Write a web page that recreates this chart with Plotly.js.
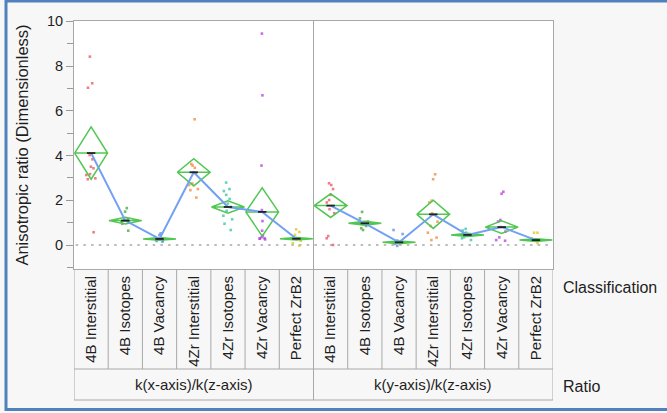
<!DOCTYPE html>
<html>
<head>
<meta charset="utf-8">
<script src="https://cdn.plot.ly/plotly-3.0.1.min.js"></script>
<style>html,body{margin:0;padding:0;background:#f7f7f7;}#chart{width:667px;height:413px;}</style>
</head>
<body>
<div id="chart"></div>
<script>
// ---- data ----
const classes = ["4B Interstitial", "4B Isotopes", "4B Vacancy", "4Zr Interstitial", "4Zr Isotopes", "4Zr Vacancy", "Perfect ZrB2"];
const ratios = ["k(x-axis)/k(z-axis)", "k(y-axis)/k(z-axis)"];
const yTickVals = [0, 2, 4, 6, 8, 10];

// group means and half-height of the means diamonds
const xzMean = [4.11, 1.09, 0.27, 3.25, 1.70, 1.48, 0.28];
const xzHalf = [1.17, 0.15, 0.06, 0.61, 0.28, 1.08, 0.06];
const yzMean = [1.76, 0.97, 0.12, 1.37, 0.45, 0.80, 0.22];
const yzHalf = [0.53, 0.09, 0.06, 0.63, 0.07, 0.28, 0.06];

// individual observations, k(x)/k(z)
const xz4BInterstitial = [8.42, 7.23, 7.03, 4.02, 3.83, 3.50, 3.43, 3.17, 3.13, 2.98, 2.94, 0.57];
const xz4BIsotopes = [1.65, 1.49, 1.15, 1.10, 1.06, 1.02, 0.95, 0.64];
const xz4BVacancy = [0.52, 0.45, 0.30, 0.25, 0.20, 0.18, 0.15, 0.22];
const xz4ZrInterstitial = [5.62, 3.62, 3.55, 3.45, 3.25, 3.20, 2.75, 2.68, 2.50, 2.45, 2.12];
const xz4ZrIsotopes = [2.79, 2.50, 2.41, 2.24, 2.06, 1.85, 1.70, 1.53, 1.31, 1.15, 0.95, 0.67];
const xz4ZrVacancy = [9.45, 6.69, 3.55, 1.56, 1.07, 0.64, 0.42, 0.35, 0.30, 0.28, 0.25, 0.30];
const xzPerfectZrB2 = [0.70, 0.58, 0.45, 0.30, 0.19, 0.08, -0.03];

// individual observations, k(y)/k(z)
const yz4BInterstitial = [2.76, 2.68, 2.50, 2.24, 2.01, 1.90, 1.60, 1.42, 0.40, 0.30, 0.00];
const yz4BIsotopes = [1.48, 1.19, 1.05, 0.95, 0.85, 0.75, 0.67];
const yz4BVacancy = [0.67, 0.49, 0.20, 0.10, 0.05, -0.04];
const yz4ZrInterstitial = [3.16, 2.94, 1.98, 1.90, 1.42, 1.04, 0.85, 0.55, 0.33, 0.22];
const yz4ZrIsotopes = [0.72, 0.65, 0.55, 0.45, 0.35, 0.22, 0.30];
const yz4ZrVacancy = [2.38, 2.29, 1.12, 1.05, 0.80, 0.34, 0.19, 0.22, 0.60];
const yzPerfectZrB2 = [0.55, 0.55, 0.30, 0.20, 0.08];

// ---- styling ----
const classColors = ["#e8545f", "#3aa83a", "#5a8ae8", "#f0883a", "#33c2a6", "#b43ce0", "#e2c41a"];
const FONT = "Arial, 'Liberation Sans', sans-serif";
const TXT = "#1e1e1e";
const GRID = "#a8a8a8";

const xzPoints = [xz4BInterstitial, xz4BIsotopes, xz4BVacancy, xz4ZrInterstitial, xz4ZrIsotopes, xz4ZrVacancy, xzPerfectZrB2];
const yzPoints = [yz4BInterstitial, yz4BIsotopes, yz4BVacancy, yz4ZrInterstitial, yz4ZrIsotopes, yz4ZrVacancy, yzPerfectZrB2];
const nC = classes.length;

const traces = [];
// points (jitter done by plotly box trace)
classes.forEach((c, i) => {
  const xs = [], ys = [];
  xzPoints[i].forEach(v => { xs.push(i); ys.push(v); });
  yzPoints[i].forEach(v => { xs.push(i + nC); ys.push(v); });
  traces.push({
    type: "box", name: c, x: xs, y: ys,
    boxpoints: "all", jitter: 0.55, pointpos: 0, width: 0.6,
    fillcolor: "rgba(0,0,0,0)", line: {width: 0, color: "rgba(0,0,0,0)"},
    whiskerwidth: 0,
    marker: {color: classColors[i], size: 2.6, symbol: "square", opacity: 0.75},
    showlegend: false, hoverinfo: "y"
  });
});

// means diamonds
const allMean = xzMean.concat(yzMean);
const allHalf = xzHalf.concat(yzHalf);
const W = 0.48;
const dx = [], dy = [];
allMean.forEach((m, k) => {
  const h = allHalf[k];
  dx.push(k - W, k, k + W, k, k - W, k + W, null);
  dy.push(m, m + h, m, m - h, m, m, null);
});
traces.push({type: "scatter", mode: "lines", x: dx, y: dy,
  line: {color: "#52c652", width: 1.5}, showlegend: false, hoverinfo: "skip"});

// connecting line of means (one per ratio panel)
const lx = [], ly = [];
xzMean.forEach((m, i) => { lx.push(i); ly.push(m); });
lx.push(null); ly.push(null);
yzMean.forEach((m, i) => { lx.push(i + nC); ly.push(m); });
traces.push({type: "scatter", mode: "lines", x: lx, y: ly,
  line: {color: "#72a0f4", width: 2}, showlegend: false, hoverinfo: "skip"});

// mean marks
traces.push({type: "scatter", mode: "markers",
  x: allMean.map((m, k) => k), y: allMean,
  marker: {symbol: "line-ew", size: 6, line: {color: "#222", width: 1.8}},
  showlegend: false, hoverinfo: "y"});

// ---- geometry helpers (plot area 74..553 x 21..269 px) ----
const PT = 21, PB = 269;
const py = p => (PB - p) / (PB - PT);
const PL = 74, PR = 553;
const px = p => (p - PL) / (PR - PL);

const shapes = [];
// zero reference line
shapes.push({type: "line", xref: "x", yref: "y", x0: -0.45, x1: 13.5, y0: 0, y1: 0,
  line: {color: "#bdbdbd", width: 2, dash: "2.5px,5.2px"}, layer: "below"});
// category separators in the label table
for (let k = 0; k < 2 * nC - 1; k++) {
  if (k === nC - 1) continue;
  shapes.push({type: "line", xref: "x", yref: "paper", x0: k + 0.5, x1: k + 0.5,
    y0: 0, y1: py(369), line: {color: GRID, width: 1}});
}
// outer table edges
[-0.5, 2 * nC - 0.5].forEach(x => shapes.push({type: "line", xref: "x", yref: "paper",
  x0: x, x1: x, y0: 0, y1: py(400), line: {color: GRID, width: 1}}));
// panel divider
shapes.push({type: "line", xref: "x", yref: "paper", x0: nC - 0.5, x1: nC - 0.5,
  y0: 1, y1: py(400), line: {color: GRID, width: 1}});
// horizontal table lines
[369, 400].forEach(p => shapes.push({type: "line", xref: "paper", yref: "paper",
  x0: 0, x1: 1, y0: py(p), y1: py(p), line: {color: GRID, width: 1}}));
// outer blue frame
shapes.push({type: "rect", xref: "paper", yref: "paper",
  x0: px(6), x1: px(672), y0: py(409.5), y1: py(1), line: {color: "#4f81bd", width: 3}});

const annotations = [];
ratios.forEach((r, j) => annotations.push({text: r, xref: "x", yref: "paper",
  x: j * nC + (nC - 1) / 2, y: py(384.5), xanchor: "center", yanchor: "middle",
  showarrow: false, font: {family: FONT, size: 15, color: TXT}}));
annotations.push({text: "Classification", xref: "paper", yref: "paper", x: px(561),
  y: py(287), xanchor: "left", yanchor: "middle", showarrow: false,
  font: {family: FONT, size: 16, color: TXT}});
annotations.push({text: "Ratio", xref: "paper", yref: "paper", x: px(561),
  y: py(386.5), xanchor: "left", yanchor: "middle", showarrow: false,
  font: {family: FONT, size: 16, color: TXT}});

const layout = {
  width: 667, height: 413,
  margin: {l: PL, r: 667 - PR, t: PT, b: 413 - PB},
  paper_bgcolor: "#f7f7f7", plot_bgcolor: "#ffffff",
  boxmode: "overlay",
  showlegend: false,
  xaxis: {type: "linear", range: [-0.5, 2 * nC - 0.5],
    tickvals: allMean.map((m, k) => k), ticktext: classes.concat(classes),
    tickangle: -90, ticks: "", showgrid: false, zeroline: false,
    showline: true, mirror: true, linecolor: GRID, linewidth: 1,
    tickfont: {family: FONT, size: 15, color: TXT}},
  yaxis: {range: [-1.073, 10.013], tickvals: yTickVals, ticks: "outside", ticklen: 7,
    tickcolor: "#999", showgrid: false, zeroline: false,
    showline: true, mirror: true, linecolor: GRID, linewidth: 1,
    minor: {tickvals: [-1, 1, 3, 5, 7, 9], ticks: "outside", ticklen: 6, tickcolor: "#999", showgrid: false},
    tickfont: {family: FONT, size: 14.5, color: TXT},
    title: {text: "Anisotropic ratio (Dimensionless)", standoff: 14,
      font: {family: FONT, size: 16.5, color: TXT}}},
  shapes: shapes,
  annotations: annotations
};

Plotly.newPlot("chart", traces, layout, {displayModeBar: false, staticPlot: true});
</script>
</body>
</html>
